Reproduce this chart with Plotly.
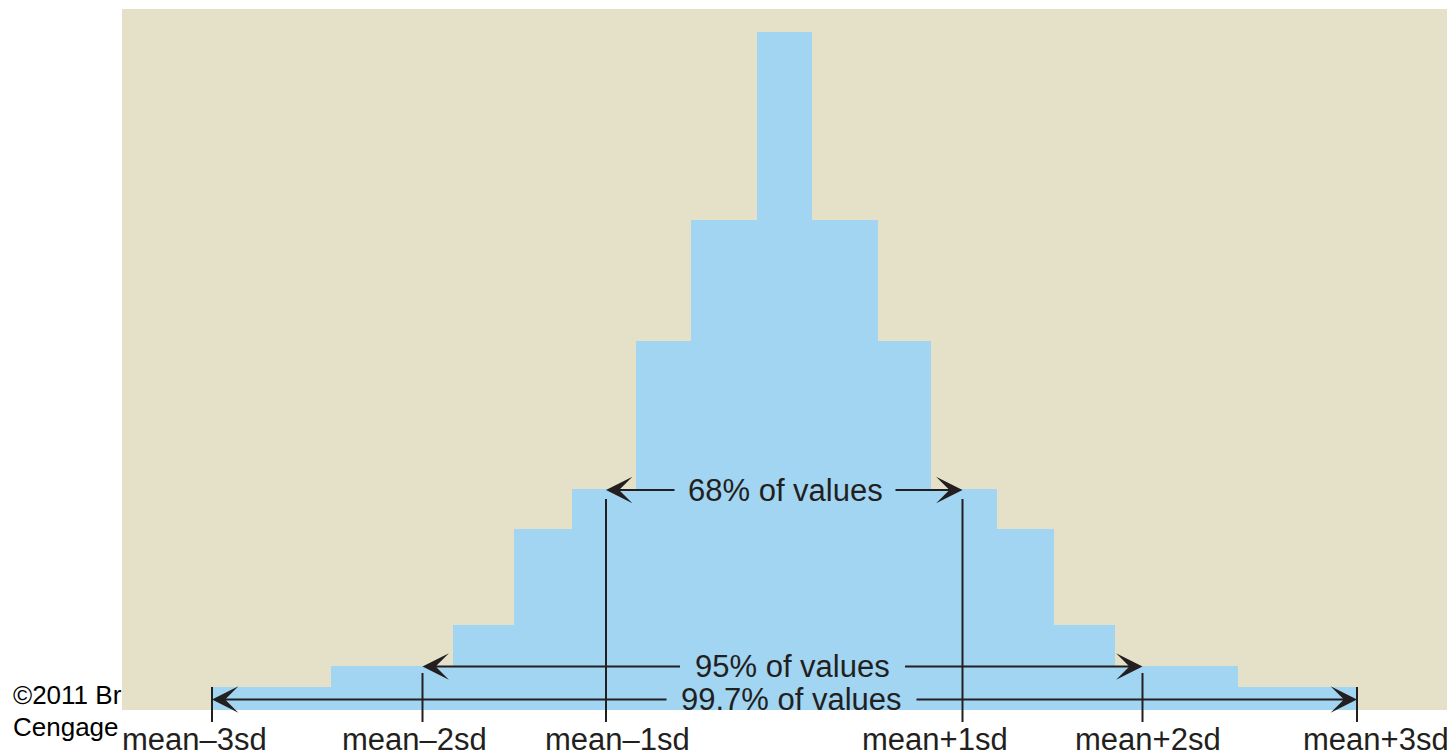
import plotly.graph_objects as go

# ---- data (x in plot units, y = bar height) ----
bin_edges = [212, 331, 453, 514, 572, 636, 691, 757, 812, 878, 931, 997, 1054, 1115, 1238, 1357]
heights = [23, 44, 85, 181, 221, 369, 490, 678, 490, 369, 221, 181, 85, 44, 23]

sd_labels = ["mean–3sd", "mean–2sd", "mean–1sd", "mean+1sd", "mean+2sd", "mean+3sd"]
sd_positions = [212, 422.5, 606, 962.5, 1142.5, 1357]

coverage_labels = ["68% of values", "95% of values", "99.7% of values"]
coverage_levels = [220, 43.5, 10.5]

copyright_lines = ["©2011 Brooks/Cole,", "Cengage Learning"]

# ---- layout / style settings ----
BEIGE = "#E5E0C8"
BLUE = "#A1D5F1"
INK = "#231F20"
FONT = "Liberation Sans, Arial, Helvetica, sans-serif"
X_RANGE = [122, 1447]
Y_RANGE = [-44, 701]
label_centers = [194.5, 414.5, 617.5, 935, 1147.5, 1376]
label_y = -29
line_tops = [23, 37, 211, 211, 37, 23]
line_bottom = -12
text_centers = [785, 792.5, 791.5]
gap_half = [109, 111, 123.5]

centers = [(a + b) / 2 for a, b in zip(bin_edges[:-1], bin_edges[1:])]
widths = [b - a for a, b in zip(bin_edges[:-1], bin_edges[1:])]

fig = go.Figure()
fig.add_trace(go.Bar(
    x=centers, y=heights, width=widths,
    marker=dict(color=BLUE, line=dict(width=0)),
    hoverinfo="skip", showlegend=False,
))

# copyright text, clipped by its own small subplot at the left edge
fig.add_trace(go.Scatter(
    x=[13, 13], y=[13, -19], mode="text", text=copyright_lines,
    textposition="middle right", cliponaxis=True,
    textfont=dict(family=FONT, size=26, color="#000000"),
    xaxis="x2", yaxis="y2", hoverinfo="skip", showlegend=False,
))

shapes = [dict(type="rect", xref="x", yref="y", x0=X_RANGE[0], x1=X_RANGE[1],
               y0=0, y1=Y_RANGE[1], fillcolor=BEIGE, line=dict(width=0), layer="below")]
for xp, top in zip(sd_positions, line_tops):
    shapes.append(dict(type="line", xref="x", yref="y", x0=xp, x1=xp, y0=line_bottom, y1=top,
                       line=dict(color=INK, width=2), layer="above"))

annotations = []
pairs = [(2, 3), (1, 4), (0, 5)]
for (i, j), lab, lvl, tc, gh in zip(pairs, coverage_labels, coverage_levels, text_centers, gap_half):
    annotations.append(dict(text=lab, x=tc, y=lvl, xref="x", yref="y", showarrow=False,
                            font=dict(family=FONT, size=31, color=INK),
                            xanchor="center", yanchor="middle"))
    for tip, tail in ((sd_positions[i], tc - gh), (sd_positions[j], tc + gh)):
        annotations.append(dict(text="", x=tip, y=lvl, ax=tail, ay=lvl, xref="x", yref="y",
                                axref="x", ayref="y", showarrow=True, arrowhead=3,
                                arrowsize=2.2, arrowwidth=2, arrowcolor=INK, standoff=0,
                                startstandoff=0))
for lab, xc in zip(sd_labels, label_centers):
    annotations.append(dict(text=lab, x=xc, y=label_y, xref="x", yref="y", showarrow=False,
                            font=dict(family=FONT, size=31, color=INK),
                            xanchor="center", yanchor="middle"))

fig.update_layout(
    width=1447, height=754, autosize=False,
    margin=dict(l=0, r=0, t=9, b=0, pad=0),
    paper_bgcolor="white", plot_bgcolor="white",
    bargap=0, shapes=shapes, annotations=annotations,
    xaxis=dict(domain=[122 / 1447, 1], range=X_RANGE, visible=False, fixedrange=True),
    yaxis=dict(range=Y_RANGE, visible=False, fixedrange=True),
    xaxis2=dict(domain=[0, 122 / 1447], range=[0, 122], visible=False, anchor="y2"),
    yaxis2=dict(range=Y_RANGE, visible=False, anchor="x2"),
    showlegend=False,
)

fig.write_html("out.html", config={"displayModeBar": False},
               post_script="document.body.style.margin='0';document.body.style.overflow='hidden';")
